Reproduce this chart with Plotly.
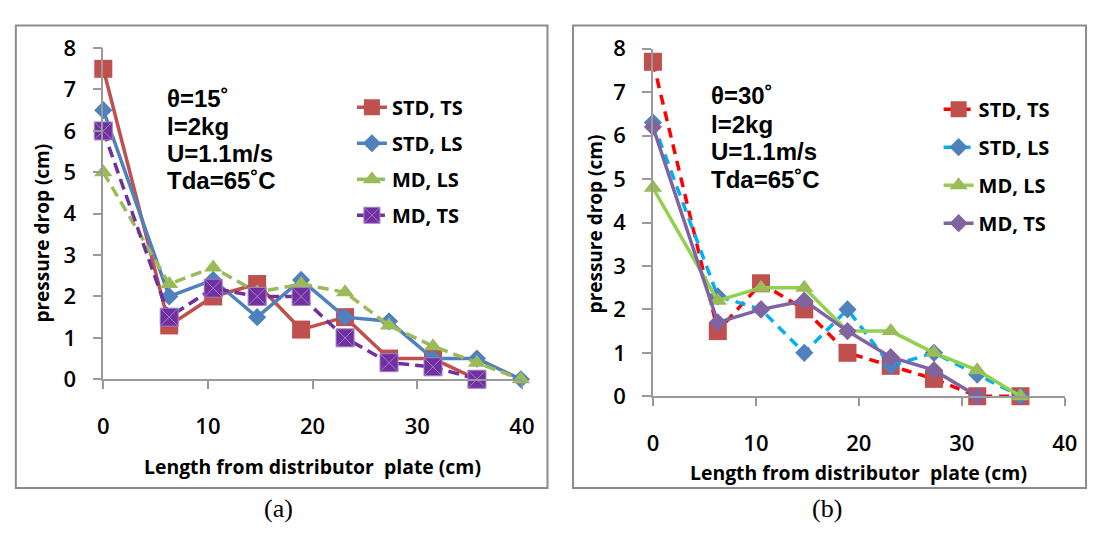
import plotly.graph_objects as go

W, H = 1101, 538

# ---------------- data ----------------
x_len = [0, 6.3, 10.5, 14.7, 18.9, 23.1, 27.3, 31.5, 35.7, 39.9]
series_names = ["STD, TS", "STD, LS", "MD, LS", "MD, TS"]

# panel (a): theta = 15
a_std_ts = [7.5, 1.3, 2.0, 2.3, 1.2, 1.5, 0.5, 0.5, 0.0]
a_std_ls = [6.5, 2.0, 2.4, 1.5, 2.4, 1.5, 1.4, 0.5, 0.5, 0.0]
a_md_ls = [5.0, 2.3, 2.7, 2.1, 2.3, 2.1, 1.3, 0.8, 0.4, 0.0]
a_md_ts = [6.0, 1.5, 2.2, 2.0, 2.0, 1.0, 0.4, 0.3, 0.0]

# panel (b): theta = 30
b_std_ts = [7.7, 1.5, 2.6, 2.0, 1.0, 0.7, 0.4, 0.0, 0.0]
b_std_ls = [6.3, 2.3, 2.0, 1.0, 2.0, 0.7, 1.0, 0.5, 0.0]
b_md_ls = [4.8, 2.2, 2.5, 2.5, 1.5, 1.5, 1.0, 0.6, 0.0]
b_md_ts = [6.2, 1.7, 2.0, 2.2, 1.5, 0.9, 0.6, 0.0]

x_ticks = [0, 10, 20, 30, 40]
y_ticks = [0, 1, 2, 3, 4, 5, 6, 7, 8]

a_text = ["θ=15˚", "l=2kg", "U=1.1m/s", "Tda=65˚C"]
b_text = ["θ=30˚", "l=2kg", "U=1.1m/s", "Tda=65˚C"]
x_title = "Length from distributor  plate (cm)"
y_title = "pressure drop (cm)"
captions = ["(a)", "(b)"]

# ---------------- helpers ----------------
def px(x):
    return x / W

def py(y):
    return 1 - y / H

LW = 3.5

def trace(y, name, xa, ya, leg, line_color, dash, symbol, msize, mcolor,
          mline_color=None, mline_w=0):
    return go.Scatter(
        x=x_len[:len(y)], y=y, name=name, mode="lines+markers",
        xaxis=xa, yaxis=ya, legend=leg, legendgroup=leg + name,
        line=dict(color=line_color, width=LW, dash=dash),
        marker=dict(symbol=symbol, size=msize, color=mcolor,
                    line=dict(color=mline_color or mcolor, width=mline_w)),
        cliponaxis=False,
    )

fig = go.Figure()

DASH_A = "11px,6px"
DASH_B = "10px,7px"

# panel (a)
fig.add_trace(trace(a_std_ts, series_names[0], "x", "y", "legend", "#C0504D", "solid", "square", 18, "#C0504D"))
fig.add_trace(trace(a_std_ls, series_names[1], "x", "y", "legend", "#4F81BD", "solid", "diamond", 14, "#4F81BD"))
fig.add_trace(trace(a_md_ls, series_names[2], "x", "y", "legend", "#9BBB59", DASH_A, "triangle-up", 16, "#9BBB59"))
fig.add_trace(trace(a_md_ts, series_names[3], "x", "y", "legend", "#7030A0", DASH_A, "square-x", 18, "#7030A0", "#A57FC8", 1))

# panel (b)
fig.add_trace(trace(b_std_ts, series_names[0], "x2", "y2", "legend2", "#FF0000", DASH_B, "square", 18, "#C0504D"))
fig.add_trace(trace(b_std_ls, series_names[1], "x2", "y2", "legend2", "#00B0F0", DASH_B, "diamond", 14, "#4F81BD"))
fig.add_trace(trace(b_md_ls, series_names[2], "x2", "y2", "legend2", "#92D050", "solid", "triangle-up", 16, "#9BBB59"))
fig.add_trace(trace(b_md_ts, series_names[3], "x2", "y2", "legend2", "#8064A2", "solid", "diamond", 14, "#8064A2"))

AX = "#9A9A9A"
TICKFONT = dict(family="Open Sans", size=22, color="#000000", weight=600)

def xaxis(domain, anchor):
    return dict(domain=domain, anchor=anchor, range=[0, 40], tickvals=x_ticks,
                showgrid=False, zeroline=False, showline=True, linecolor=AX,
                linewidth=1.5, ticks="outside", ticklen=8, tickcolor=AX,
                tickwidth=1.5, tickfont=TICKFONT, ticklabelstandoff=19)

def yaxis(domain, anchor):
    return dict(domain=domain, anchor=anchor, range=[0, 8], tickvals=y_ticks,
                showgrid=False, zeroline=False, showline=True, linecolor=AX,
                linewidth=1.5, ticks="outside", ticklen=9, tickcolor=AX,
                tickwidth=1.5, tickfont=TICKFONT, ticklabelstandoff=12)

LEGFONT = dict(family="Open Sans", size=20, color="#000000", weight="bold")

fig.update_layout(
    width=W, height=H, margin=dict(l=0, r=0, t=0, b=0),
    paper_bgcolor="white", plot_bgcolor="rgba(0,0,0,0)",
    xaxis=xaxis([px(99), px(525)], "y"),
    yaxis=yaxis([py(384.7), py(34)], "x"),
    xaxis2=xaxis([px(658.3), px(1077.3)], "y2"),
    yaxis2=yaxis([py(402.7), py(34.7)], "x2"),
    legend=dict(x=px(352), y=py(76), xanchor="left", yanchor="top",
                bgcolor="rgba(0,0,0,0)", font=LEGFONT, tracegroupgap=7,
                borderwidth=0),
    legend2=dict(x=px(949), y=py(78), xanchor="left", yanchor="top",
                 bgcolor="rgba(0,0,0,0)", font=LEGFONT, tracegroupgap=9,
                 borderwidth=0),
    showlegend=True,
)

# panel frames
for x0, x1 in [(10, 551), (577, 1099)]:
    fig.add_shape(type="rect", xref="paper", yref="paper",
                  x0=px(x0), x1=px(x1), y0=py(500), y1=py(10),
                  line=dict(color="#8C8C8C", width=2), layer="below")

ANNFONT = dict(family="Liberation Sans, Arial", size=24, color="#000000", weight="bold")
XTITLEFONT = dict(family="Open Sans", size=19.4, color="#000000", weight="bold")
YTITLEFONT = dict(family="Open Sans", size=19, color="#000000", weight="bold")

a_lines_y = [87, 116.5, 145.5, 174.5]
b_lines_y = [84, 114.5, 143.5, 173]
for t, yy in zip(a_text, a_lines_y):
    fig.add_annotation(text=t, xref="paper", yref="paper", x=px(162), y=py(yy),
                       xanchor="left", yanchor="middle", showarrow=False, font=ANNFONT)
for t, yy in zip(b_text, b_lines_y):
    fig.add_annotation(text=t, xref="paper", yref="paper", x=px(715), y=py(yy),
                       xanchor="left", yanchor="middle", showarrow=False, font=ANNFONT)

# axis titles
for cx, cy in [(312, 477), (867, 483)]:
    fig.add_annotation(text=x_title, xref="paper", yref="paper", x=px(cx), y=py(cy),
                       xanchor="center", yanchor="middle", showarrow=False, font=XTITLEFONT)
for cx, cy in [(37, 230), (599, 220)]:
    fig.add_annotation(text=y_title, xref="paper", yref="paper", x=px(cx), y=py(cy),
                       xanchor="center", yanchor="middle", showarrow=False,
                       textangle=-90, font=YTITLEFONT)

# captions
for t, cx in zip(captions, [277, 835]):
    fig.add_annotation(text=t, xref="paper", yref="paper", x=px(cx), y=py(522),
                       xanchor="center", yanchor="middle", showarrow=False,
                       font=dict(family="Liberation Serif, Times New Roman", size=26, color="#000000"))

fig.write_html("out.html")
